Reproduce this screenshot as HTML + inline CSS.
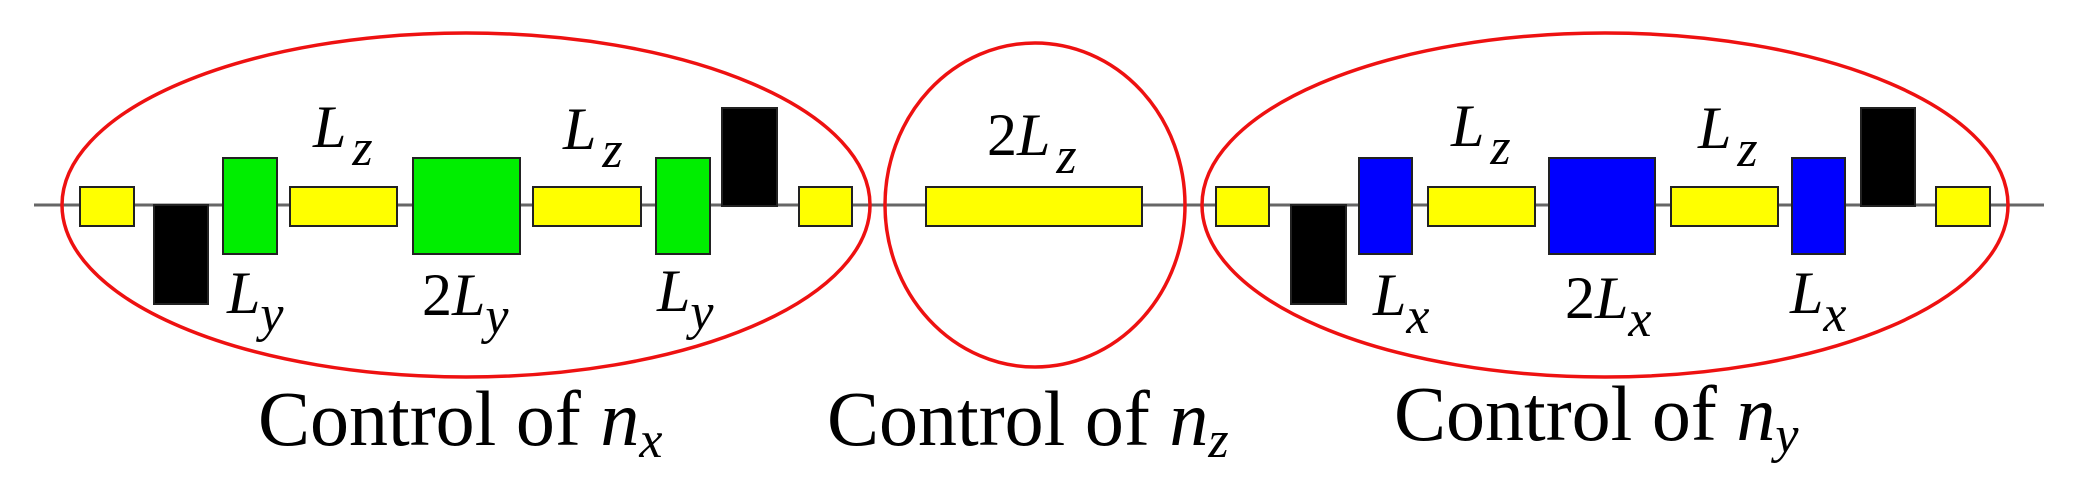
<!DOCTYPE html>
<html><head><meta charset="utf-8"><style>
html,body{margin:0;padding:0;background:#fff;}
svg{display:block;}
text{font-family:"Liberation Serif",serif;fill:#000;}
.i{font-style:italic;}
</style></head><body>
<svg width="2075" height="495" viewBox="0 0 2075 495" xmlns="http://www.w3.org/2000/svg">
<line x1="34" y1="205" x2="2044" y2="205" stroke="#666" stroke-width="3"/>
<g stroke="#222" stroke-width="2">
<rect x="80" y="187" width="54" height="39" fill="#ffff00"/>
<rect x="154" y="205" width="54" height="99" fill="#000"/>
<rect x="223" y="158" width="54" height="96" fill="#00ee00"/>
<rect x="290" y="187" width="107" height="39" fill="#ffff00"/>
<rect x="413" y="158" width="107" height="96" fill="#00ee00"/>
<rect x="533" y="187" width="108" height="39" fill="#ffff00"/>
<rect x="656" y="158" width="54" height="96" fill="#00ee00"/>
<rect x="722" y="108" width="55" height="98" fill="#000"/>
<rect x="799" y="187" width="53" height="39" fill="#ffff00"/>
<rect x="926" y="187" width="216" height="39" fill="#ffff00"/>
<rect x="1216" y="187" width="53" height="39" fill="#ffff00"/>
<rect x="1291" y="205" width="55" height="99" fill="#000"/>
<rect x="1359" y="158" width="53" height="96" fill="#0000ff"/>
<rect x="1428" y="187" width="107" height="39" fill="#ffff00"/>
<rect x="1549" y="158" width="106" height="96" fill="#0000ff"/>
<rect x="1671" y="187" width="107" height="39" fill="#ffff00"/>
<rect x="1792" y="158" width="53" height="96" fill="#0000ff"/>
<rect x="1861" y="108" width="54" height="98" fill="#000"/>
<rect x="1936" y="187" width="54" height="39" fill="#ffff00"/>
</g>
<g fill="none" stroke="#ee1111" stroke-width="3.5">
<ellipse cx="466" cy="205" rx="404" ry="172"/>
<ellipse cx="1035" cy="205" rx="150" ry="162"/>
<ellipse cx="1605" cy="205" rx="403" ry="172"/>
</g>
<g font-size="60">
<text x="313" y="147" class="i">L<tspan font-size="52" dy="18" dx="6">z</tspan></text>
<text x="563" y="149" class="i">L<tspan font-size="52" dy="18" dx="6">z</tspan></text>
<text x="227" y="313" class="i">L<tspan font-size="52" dy="18">y</tspan></text>
<text x="422" y="315">2<tspan class="i">L</tspan><tspan class="i" font-size="52" dy="18">y</tspan></text>
<text x="657" y="311" class="i">L<tspan font-size="52" dy="18">y</tspan></text>
<text x="987" y="155">2<tspan class="i">L</tspan><tspan class="i" font-size="52" dy="18" dx="6">z</tspan></text>
<text x="1451" y="146" class="i">L<tspan font-size="52" dy="18" dx="6">z</tspan></text>
<text x="1698" y="148" class="i">L<tspan font-size="52" dy="18" dx="6">z</tspan></text>
<text x="1373" y="315" class="i">L<tspan font-size="52" dy="18">x</tspan></text>
<text x="1565" y="318">2<tspan class="i">L</tspan><tspan class="i" font-size="52" dy="18">x</tspan></text>
<text x="1790" y="313" class="i">L<tspan font-size="52" dy="18">x</tspan></text>
</g>
<g font-size="78">
<text x="258" y="445">Control of <tspan class="i">n</tspan><tspan class="i" font-size="52" dy="12">x</tspan></text>
<text x="827" y="445">Control of <tspan class="i">n</tspan><tspan class="i" font-size="52" dy="12">z</tspan></text>
<text x="1394" y="440">Control of <tspan class="i">n</tspan><tspan class="i" font-size="52" dy="12">y</tspan></text>
</g>
</svg>
</body></html>
